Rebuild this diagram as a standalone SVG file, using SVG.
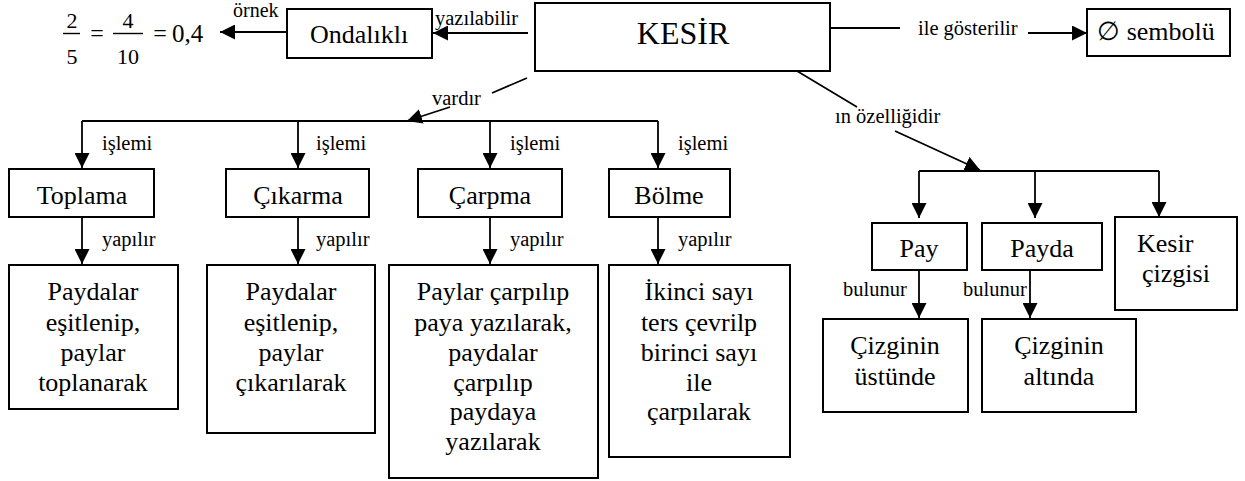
<svg xmlns="http://www.w3.org/2000/svg" width="1245" height="481" viewBox="0 0 1245 481">
  <style>
    .box { fill: #fff; stroke: #000; stroke-width: 2; }
    .t { font-family: 'Liberation Serif', 'Times New Roman', Tinos, 'DejaVu Serif', serif; fill: #000; }
    .big { font-size: 26px; text-anchor: middle; }
    .lbl { font-size: 20.5px; }
    .ln { stroke: #000; stroke-width: 1.8; fill: none; }
    .arr { stroke: #000; stroke-width: 1.8; fill: none; marker-end: url(#ah); }
    .bar { stroke: #000; stroke-width: 1.4; }
  </style>
  <defs>
    <marker id="ah" markerUnits="userSpaceOnUse" markerWidth="16" markerHeight="15" refX="15" refY="7.5" orient="auto">
      <path d="M0,0 L15,7.5 L0,15 z" fill="#000"/>
    </marker>
  </defs>
  <rect width="1245" height="481" fill="#fff"/>

  <!-- fraction example: 2/5 = 4/10 = 0,4 -->
  <g id="example" class="t">
    <text x="72" y="28" font-size="22" text-anchor="middle">2</text>
    <line class="bar" x1="63" y1="33.5" x2="80" y2="33.5"/>
    <text x="72" y="64" font-size="22" text-anchor="middle">5</text>
    <text x="97" y="41" font-size="24" text-anchor="middle">=</text>
    <text x="128" y="28" font-size="22" text-anchor="middle">4</text>
    <line class="bar" x1="113" y1="33.5" x2="143" y2="33.5"/>
    <text x="128" y="64" font-size="22" text-anchor="middle">10</text>
    <text x="160" y="41" font-size="24" text-anchor="middle">=</text>
    <text x="172" y="42" font-size="25">0,4</text>
  </g>

  <!-- nodes -->
  <g id="kesir"><rect class="box" x="535" y="3" width="295" height="68"/><text class="t" x="683" y="44" font-size="32" text-anchor="middle">KESİR</text></g>
  <g id="ondalikli"><rect class="box" x="287" y="9" width="145" height="49"/><text class="t big" x="359" y="43">Ondalıklı</text></g>
  <g id="sembol"><rect class="box" x="1087" y="9" width="143" height="47"/><text class="t big" x="1156" y="40">∅ sembolü</text></g>

  <g id="toplama"><rect class="box" x="9" y="169" width="145" height="48"/><text class="t big" x="82" y="204">Toplama</text></g>
  <g id="cikarma"><rect class="box" x="226" y="169" width="143" height="48"/><text class="t big" x="298" y="204">Çıkarma</text></g>
  <g id="carpma"><rect class="box" x="418" y="169" width="144" height="48"/><text class="t big" x="490" y="204">Çarpma</text></g>
  <g id="bolme"><rect class="box" x="609" y="169" width="121" height="48"/><text class="t big" x="669" y="204">Bölme</text></g>

  <g id="toplama-yol"><rect class="box" x="9" y="265" width="169" height="144"/>
    <text class="t big"><tspan x="93" y="300">Paydalar</tspan><tspan x="93" y="331">eşitlenip,</tspan><tspan x="93" y="361">paylar</tspan><tspan x="93" y="391">toplanarak</tspan></text></g>
  <g id="cikarma-yol"><rect class="box" x="207" y="265" width="168" height="168"/>
    <text class="t big"><tspan x="291" y="300">Paydalar</tspan><tspan x="291" y="331">eşitlenip,</tspan><tspan x="291" y="361">paylar</tspan><tspan x="291" y="391">çıkarılarak</tspan></text></g>
  <g id="carpma-yol"><rect class="box" x="389" y="265" width="209" height="213"/>
    <text class="t big"><tspan x="493" y="300">Paylar çarpılıp</tspan><tspan x="493" y="331">paya yazılarak,</tspan><tspan x="493" y="361">paydalar</tspan><tspan x="493" y="391">çarpılıp</tspan><tspan x="493" y="420">paydaya</tspan><tspan x="493" y="450">yazılarak</tspan></text></g>
  <g id="bolme-yol"><rect class="box" x="609" y="265" width="181" height="192"/>
    <text class="t big"><tspan x="699" y="300">İkinci sayı</tspan><tspan x="699" y="331">ters çevrilp</tspan><tspan x="699" y="361">birinci sayı</tspan><tspan x="699" y="391">ile</tspan><tspan x="699" y="420">çarpılarak</tspan></text></g>

  <g id="pay"><rect class="box" x="872" y="223" width="95" height="47"/><text class="t big" x="919" y="257">Pay</text></g>
  <g id="payda"><rect class="box" x="982" y="223" width="120" height="47"/><text class="t big" x="1042" y="257">Payda</text></g>
  <g id="kesir-cizgisi"><rect class="box" x="1115" y="217" width="122" height="93"/>
    <text class="t" font-size="26"><tspan x="1137" y="252">Kesir</tspan><tspan x="1142" y="282">çizgisi</tspan></text></g>
  <g id="ustunde"><rect class="box" x="823" y="319" width="145" height="93"/>
    <text class="t big"><tspan x="895" y="354">Çizginin</tspan><tspan x="895" y="385">üstünde</tspan></text></g>
  <g id="altinda"><rect class="box" x="982" y="319" width="154" height="93"/>
    <text class="t big"><tspan x="1059" y="354">Çizginin</tspan><tspan x="1059" y="385">altında</tspan></text></g>

  <!-- connectors and their labels -->
  <g id="connectors">
    <line class="arr" x1="528" y1="33" x2="433" y2="33"/>
    <line class="arr" x1="287" y1="32" x2="220" y2="32"/>
    <line class="ln" x1="831" y1="28" x2="900" y2="28"/>
    <line class="arr" x1="1028" y1="33" x2="1087" y2="33"/>

    <line class="ln" x1="527" y1="78" x2="492" y2="93"/>
    <line class="arr" x1="450" y1="107" x2="407" y2="121"/>
    <line class="ln" x1="82" y1="121" x2="658" y2="121"/>
    <line class="arr" x1="82" y1="121" x2="82" y2="168"/>
    <line class="arr" x1="298" y1="121" x2="298" y2="168"/>
    <line class="arr" x1="490" y1="121" x2="490" y2="168"/>
    <line class="arr" x1="658" y1="121" x2="658" y2="168"/>

    <line class="arr" x1="82" y1="217" x2="82" y2="264"/>
    <line class="arr" x1="298" y1="217" x2="298" y2="264"/>
    <line class="arr" x1="490" y1="217" x2="490" y2="264"/>
    <line class="arr" x1="658" y1="217" x2="658" y2="264"/>

    <line class="ln" x1="797" y1="71" x2="857" y2="107"/>
    <line class="arr" x1="895" y1="131" x2="980" y2="170"/>
    <line class="ln" x1="919" y1="171" x2="1159" y2="171"/>
    <line class="arr" x1="919" y1="171" x2="919" y2="218"/>
    <line class="arr" x1="1035" y1="171" x2="1035" y2="218"/>
    <line class="arr" x1="1159" y1="171" x2="1159" y2="217"/>

    <line class="arr" x1="919" y1="270" x2="919" y2="318"/>
    <line class="arr" x1="1030" y1="270" x2="1030" y2="318"/>

    <g class="t lbl">
      <text x="233" y="17" font-size="20">örnek</text>
      <text x="435" y="25">yazılabilir</text>
      <text x="918" y="35">ile gösterilir</text>
      <text x="432" y="105">vardır</text>
      <text x="835" y="123">ın özelliğidir</text>
      <text x="102" y="150">işlemi</text>
      <text x="316" y="150">işlemi</text>
      <text x="510" y="150">işlemi</text>
      <text x="678" y="150">işlemi</text>
      <text x="102" y="246">yapılır</text>
      <text x="316" y="246">yapılır</text>
      <text x="510" y="246">yapılır</text>
      <text x="678" y="246">yapılır</text>
      <text x="843" y="296">bulunur</text>
      <text x="963" y="296">bulunur</text>
    </g>
  </g>
</svg>
